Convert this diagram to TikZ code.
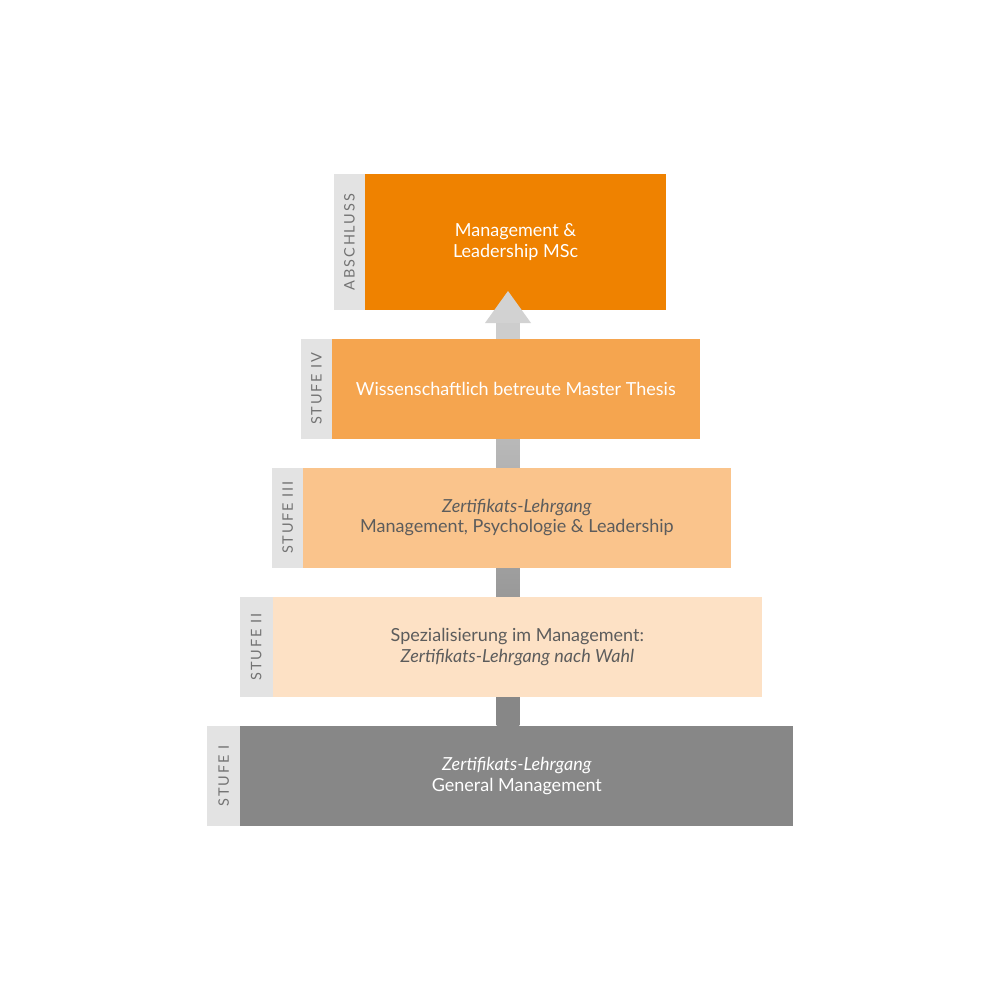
\documentclass[tikz,border=0pt]{standalone}
\usepackage{fontspec}
\setmainfont{Lato}
\newfontfamily\tabfont{Lato}[LetterSpace=13]
\usetikzlibrary{calc,backgrounds}
\definecolor{absch}{HTML}{EF8200}
\definecolor{sIV}{HTML}{F5A54F}
\definecolor{sIII}{HTML}{FAC48C}
\definecolor{sII}{HTML}{FDE1C5}
\definecolor{sI}{HTML}{878787}
\definecolor{tabgray}{HTML}{E3E3E3}
\definecolor{tabtext}{HTML}{737373}
\definecolor{darktext}{HTML}{5C5C5C}
\definecolor{arrowgray}{HTML}{D2D2D2}
\definecolor{shaftmid}{HTML}{CDCDCD}
\pgfdeclareverticalshading{shaftshade}{100bp}{color(0bp)=(sI); color(30bp)=(sI); color(73bp)=(shaftmid); color(100bp)=(arrowgray)}
\begin{document}
\begin{tikzpicture}[x=0.025cm,y=-0.025cm,
  box/.style={draw=none, inner sep=0pt, anchor=north west, align=center, minimum height=2.5cm, font=\fontsize{12.8}{14.4}\selectfont},
  tab/.style={fill=tabgray, draw=none, inner sep=0pt, anchor=north west, minimum height=2.5cm},
  tablabel/.style={rotate=90, text=tabtext, inner sep=0pt, font=\tabfont\fontsize{10.3}{12}\selectfont}]
\useasboundingbox (0,0) rectangle (1000,1000);

% Abschluss
\node[tab, minimum width=0.7925cm, minimum height=3.39cm] (abstab) at (333.3,174) {};
\node[box, fill=absch, minimum width=7.5125cm, minimum height=3.39cm, text=white] (abs) at (365,174) {Management \&\\Leadership MSc};
\node[tablabel] (abslabel) at (abstab.center) {ABSCHLUSS};

% Stufe IV
\node[tab, minimum width=0.775cm] (tabIV) at (300.7,338.3) {};
\node[box, fill=sIV, minimum width=9.19cm, text=white] (boxIV) at (331.7,338.3) {Wissenschaftlich betreute Master Thesis};
\node[tablabel] (labIV) at (tabIV.center) {STUFE IV};

% Stufe III
\node[tab, minimum width=0.765cm] (tabIII) at (272,467.3) {};
\node[box, fill=sIII, minimum width=10.7cm, text=darktext] (boxIII) at (302.6,467.3) {\itshape Zertifikats-Lehrgang\\Management, Psychologie \& Leadership};
\node[tablabel] (labIII) at (tabIII.center) {STUFE III};

% Stufe II
\node[tab, minimum width=0.825cm] (tabII) at (239.3,596.7) {};
\node[box, fill=sII, minimum width=12.235cm, text=darktext] (boxII) at (272.3,596.7) {Spezialisierung im Management:\\\itshape Zertifikats-Lehrgang nach Wahl};
\node[tablabel] (labII) at (tabII.center) {STUFE II};

% Stufe I
\node[tab, minimum width=0.8325cm] (tabI) at (206.7,725.7) {};
\node[box, fill=sI, minimum width=13.825cm, text=white] (boxI) at (240,725.7) {\itshape Zertifikats-Lehrgang\\General Management};
\node[tablabel] (labI) at (tabI.center) {STUFE I};

% Arrow (connector from Stufe I up to Abschluss)
\coordinate (tip) at (508,291);
\begin{scope}[on background layer]
  \shade[shading=shaftshade] ($(tip |- boxI.north)+(-11.3,0)$) rectangle ($(tip)+(11.3,31)$);
\end{scope}
\fill[arrowgray] (tip) -- ($(tip)+(23,32)$) -- ($(tip)+(-23,32)$) -- cycle;
\end{tikzpicture}
\end{document}
